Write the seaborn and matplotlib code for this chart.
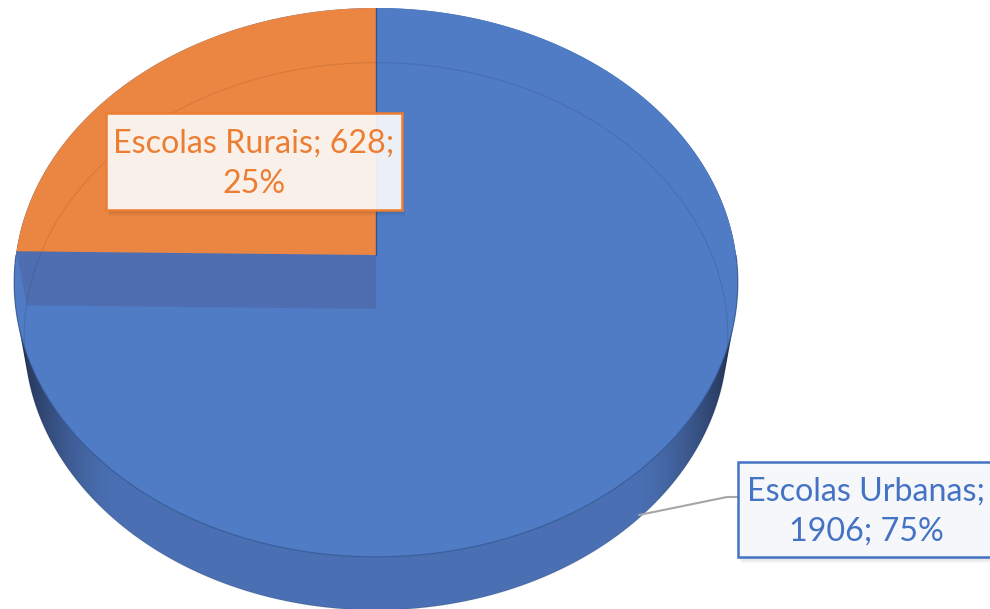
import numpy as np
import matplotlib
matplotlib.use("Agg")
import matplotlib.pyplot as plt
import seaborn as sns
from matplotlib.patches import Polygon, Rectangle

# ---------------- data ----------------
categories = ["Escolas Urbanas", "Escolas Rurais"]
values = [1906, 628]
label_formats = ["{name};\n{val}; {pct}%", "{name}; {val};\n{pct}%"]

# ---------------- style ----------------
sns.set_theme(style="white")
plt.rcParams['font.family'] = ['Lato', 'DejaVu Sans']

top_colors = sns.color_palette(["#4f7cc5", "#eb8642"])
text_colors = ["#4472c4", "#ed7d31"]
band_color = "#4f6eb2"
side_mid = np.array([0x4a, 0x6f, 0xb2]) / 255.0
side_dark = np.array([0x1f, 0x2c, 0x48]) / 255.0

W, H = 990, 609
fig = plt.figure(figsize=(9.9, 6.09), dpi=100)
ax = fig.add_axes([0, 0, 1, 1])
ax.set_xlim(0, W)
ax.set_ylim(H, 0)
ax.axis('off')

# ---------------- 3D pie geometry (layout) ----------------
CX = 376
P = 0.1
TOP = dict(y0=255, k=271.7, s=360)
BOT = dict(y0=309, k=271, s=350)


def proj(theta, face):
    u = np.cos(theta)
    v = np.sin(theta)
    d = 1 + P * v
    return CX + face['s'] * u / d, face['y0'] - face['k'] * v / d


def hull(points):
    pts = sorted(set(map(tuple, np.round(points, 3))))
    def cross(o, a, b):
        return (a[0]-o[0])*(b[1]-o[1]) - (a[1]-o[1])*(b[0]-o[0])
    lower, upper = [], []
    for p in pts:
        while len(lower) >= 2 and cross(lower[-2], lower[-1], p) <= 0:
            lower.pop()
        lower.append(p)
    for p in reversed(pts):
        while len(upper) >= 2 and cross(upper[-2], upper[-1], p) <= 0:
            upper.pop()
        upper.append(p)
    return np.array(lower[:-1] + upper[:-1])


total = sum(values)
fracs = [v / total for v in values]
cum = np.concatenate([[0], np.cumsum(fracs)])
start = np.pi / 2
angles = [(start - 2*np.pi*cum[i], start - 2*np.pi*cum[i+1]) for i in range(len(values))]

# side (solid body)
full = np.linspace(0, 2*np.pi, 720)
tx, ty = proj(full, TOP)
bx, by = proj(full, BOT)
body = hull(np.column_stack([np.concatenate([tx, bx]), np.concatenate([ty, by])]))
body_patch = Polygon(body, closed=True, facecolor='none', edgecolor='none', zorder=1)
ax.add_patch(body_patch)
xs = np.arange(W) + 0.5
t = np.clip((np.abs(xs - CX) / 362 - 0.72) / 0.28, 0, 1) ** 1.6
cols = side_mid[None, :] * (1 - t[:, None]) + side_dark[None, :] * t[:, None]
img = np.repeat(cols[None, :, :], H, axis=0)
im = ax.imshow(img, extent=(0, W, H, 0), zorder=1, aspect='auto', interpolation='bilinear')
im.set_clip_path(body_patch)

# top faces
for i, (a0, a1) in enumerate(angles):
    th = np.linspace(a0, a1, 400)
    x, y = proj(th, TOP)
    pts = np.column_stack([np.concatenate([[CX], x]), np.concatenate([[TOP['y0']], y])])
    ax.add_patch(Polygon(pts, closed=True, facecolor=top_colors[i], edgecolor='none',
                         zorder=2 if i == 0 else 4))

# cut band under the small slice boundary
b_ang = angles[0][1]
px1, py1 = proj(b_ang, TOP)
px2, py2 = proj(b_ang, BOT)
ax.add_patch(Polygon([[CX, TOP['y0']], [px1, py1], [px2, py2], [CX, BOT['y0']]],
                     closed=True, facecolor=band_color, edgecolor='none', zorder=3))

# faint inner outline and edges
ax.plot(bx, by, color='black', alpha=0.09, lw=0.9, zorder=5)
fr = np.linspace(np.pi, 2*np.pi, 300)
fx, fy = proj(fr, TOP)
ax.plot(fx, fy, color='#35568f', alpha=0.7, lw=0.9, zorder=5)
rx, ry = proj(start, TOP)
ax.plot([CX, rx], [TOP['y0'], ry], color='#2f5597', lw=1.0, zorder=5)

# ---------------- labels ----------------
box_specs = [dict(x=738, y=462, w=275, h=95), dict(x=106, y=113, w=296, h=97)]
face_cols = [(0.97, 0.975, 0.99, 0.95), (1, 1, 1, 0.9)]
for i, name in enumerate(categories):
    b = box_specs[i]
    for j, (off, al) in enumerate([(6, 0.04), (4, 0.05), (2, 0.06)]):
        ax.add_patch(Rectangle((b['x'] + off/2, b['y'] + off), b['w'], b['h'],
                               facecolor='black', alpha=al, edgecolor='none', zorder=9))
    ax.add_patch(Rectangle((b['x'], b['y']), b['w'], b['h'], facecolor=face_cols[i],
                           edgecolor=text_colors[i], lw=1.8, zorder=10))
    pct = round(100 * values[i] / total)
    txt = label_formats[i].format(name=name, val=values[i], pct=pct)
    cx_t = b['x'] + 128 if i == 0 else b['x'] + b['w'] / 2
    ax.text(cx_t, b['y'] + b['h'] / 2 + 2, txt, ha='center', va='center',
            fontsize=23.2, color=text_colors[i], linespacing=1.42, zorder=11)

# leader line for the large slice
ax.plot([639, 727, 738], [515, 497, 497], color='#a6a6a6', lw=1.5, zorder=8)

fig.savefig("out.png", dpi=100)
